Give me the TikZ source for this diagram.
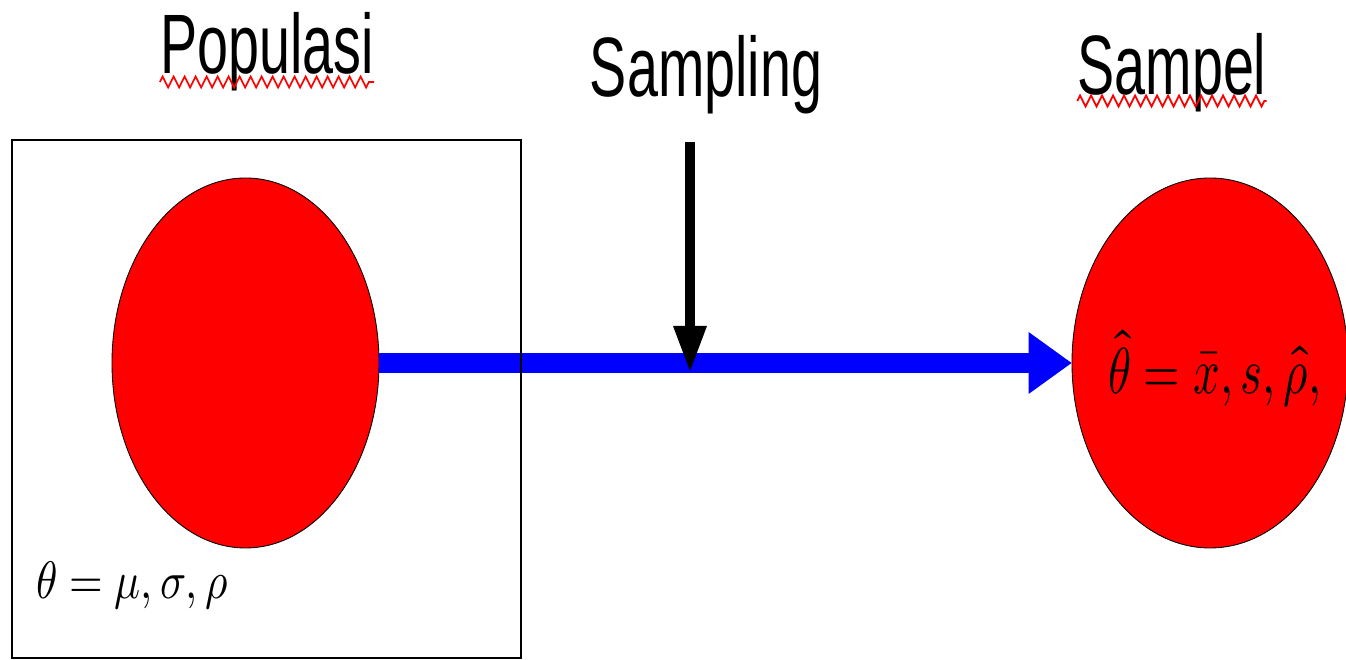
\documentclass[tikz,border=0pt]{standalone}
\usepackage{fontspec}
\usepackage{unicode-math}
\usepackage{tikz}
\usetikzlibrary{arrows.meta,positioning,shapes.geometric,decorations.pathmorphing}
\newfontfamily\labelfont[FakeStretch=0.66]{Liberation Sans}

\begin{document}
\begin{tikzpicture}[
    title/.style={font=\labelfont\fontsize{48}{50}\selectfont, inner sep=0pt, anchor=base},
    blob/.style={ellipse, draw=black, line width=0.5pt, fill=red, inner sep=0pt, minimum height=7.4cm},
    frame/.style={draw, line width=1.1pt, minimum width=10.18cm, minimum height=10.36cm, inner sep=0pt},
    formula/.style={inner sep=0pt, anchor=base west},
    flow/.style={-{Triangle[length=8.6mm, width=12.4mm, line width=0pt]}, line width=4mm, blue},
    pick/.style={-{Triangle[length=9mm, width=6.8mm, line width=0pt]}, line width=2mm},
    squiggle/.style={red, line width=1pt, decorate, decoration={zigzag, segment length=2.2mm, amplitude=1.1mm}}
]
\useasboundingbox (0,0) rectangle (26.92,13.2);
\node[blob, minimum width=5.34cm] (popblob) at (4.91,5.94) {};
\node[blob, minimum width=5.52cm] (sampblob) at (24.2,5.94) {};
\coordinate (picktop) at (13.8,10.36);
\coordinate (pickhit) at (13.8,5.78);
\draw[flow] (popblob.east) -- (sampblob.west);
\draw[pick] (picktop) -- (pickhit);
\node[frame] (popframe) at (5.33,5.22) {};
% labels
\node[title] (popu) at (5.34,11.72) {Populasi};
\node[title] (sampling) at (14.12,11.26) {Sampling};
\node[title] (sampel) at (23.44,11.3) {Sampel};
\draw[squiggle] ([yshift=-1.6mm]popu.base west) -- ([yshift=-1.6mm]popu.base east);
\draw[squiggle] ([yshift=-1.2mm]sampel.base west) -- ([yshift=-1.2mm]sampel.base east);
\node[formula, font=\fontsize{30}{36}\selectfont] (popparam) at (0.72,1.22) {\scalebox{0.82}[1]{$\theta = \mu, \sigma, \rho$}};
\node[formula, font=\fontsize{37}{44}\selectfont] (sampstat) at (22.16,5.32) {\scalebox{0.72}[1]{$\hat{\theta} = \bar{x}, s, \hat{\rho},$}};
\end{tikzpicture}
\end{document}
